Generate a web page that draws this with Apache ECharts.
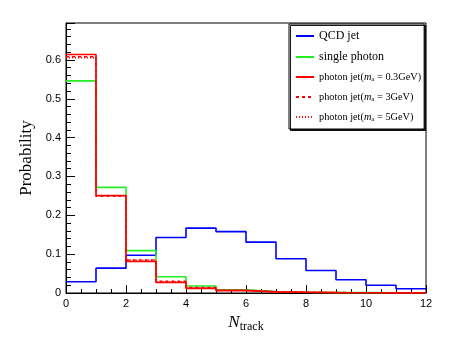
<!DOCTYPE html>
<html><head><meta charset="utf-8">
<script src="https://cdn.jsdelivr.net/npm/echarts@6/dist/echarts.min.js"></script>
<style>html,body{margin:0;padding:0;background:#fff}#c{width:458px;height:343px}</style>
</head><body><div id="c"></div>
<script>
const binEdges = [0,1,2,3,4,5,6,7,8,9,10,11,12];
const qcdJet = [0.029, 0.064, 0.097, 0.143, 0.167, 0.158, 0.131, 0.088, 0.058, 0.034, 0.020, 0.011];
const singlePhoton = [0.546, 0.272, 0.109, 0.042, 0.018, 0.008, 0.004, 0.002, 0.001, 0.001, 0.0005, 0.0003];
const photonJet03 = [0.614, 0.251, 0.081, 0.027, 0.012, 0.006, 0.003, 0.002, 0.001, 0.0005, 0.0003, 0.0002];
const photonJet3 = [0.608, 0.249, 0.085, 0.030, 0.014, 0.007, 0.003, 0.002, 0.001, 0.0005, 0.0003, 0.0002];
const photonJet5 = [0.606, 0.250, 0.084, 0.029, 0.013, 0.007, 0.003, 0.002, 0.001, 0.0005, 0.0003, 0.0002];
const xTicks = [0,2,4,6,8,10,12];
const yTicks = [0,0.1,0.2,0.3,0.4,0.5,0.6];

function hist(v){
  const d = [];
  for (let i=0;i<v.length;i++) d.push([binEdges[i], v[i]]);
  d.push([binEdges[v.length], v[v.length-1]]);
  return d;
}
const names = ['QCD jet','single photon','pj03','pj3','pj5'];
const labels = {
  'QCD jet':'{b|QCD jet}',
  'single photon':'{b|single photon}',
  'pj03':'{s|photon jet(}{i|m}{sub|a}{s| = 0.3GeV)}',
  'pj3':'{s|photon jet(}{i|m}{sub|a}{s| = 3GeV)}',
  'pj5':'{s|photon jet(}{i|m}{sub|a}{s| = 5GeV)}'
};
function ser(name, v, color, type){
  return {name, type:'line', step:'end', data:hist(v), symbol:'none', showSymbol:false,
    lineStyle:{color, width:1.6, type}, itemStyle:{color}, animation:false, z:3};
}
const chart = echarts.init(document.getElementById('c'), null, {renderer:'canvas'});
chart.setOption({
  animation:false,
  backgroundColor:'#fff',
  grid:{left:66, right:32, top:23, bottom:50, show:true, borderColor:'#000', borderWidth:1, backgroundColor:'transparent'},
  xAxis:{type:'value', min:0, max:12, interval:2,
    name:'{n|N}{t|track}', nameLocation:'middle', nameGap:20,
    nameTextStyle:{rich:{n:{fontFamily:'Liberation Serif', fontStyle:'italic', fontSize:17, color:'#000'},
                         t:{fontFamily:'Liberation Serif', fontSize:12, color:'#000', padding:[8,0,0,0]}}},
    axisLine:{lineStyle:{color:'#000', width:1}},
    axisTick:{inside:true, length:8, lineStyle:{color:'#000'}},
    minorTick:{show:true, splitNumber:4, length:4, lineStyle:{color:'#000'}},
    axisLabel:{color:'#000', fontFamily:'Liberation Sans', fontSize:11, margin:5,
      formatter:v=> xTicks.includes(v) ? String(v) : ''},
    splitLine:{show:false}},
  yAxis:{type:'value', min:0, max:0.695, interval:0.1,
    name:'Probability', nameLocation:'middle', nameGap:28,
    nameTextStyle:{fontFamily:'Liberation Serif', fontSize:17, color:'#000'},
    axisLine:{lineStyle:{color:'#000', width:1}},
    axisTick:{inside:true, length:9, lineStyle:{color:'#000'}},
    minorTick:{show:true, splitNumber:5, length:5, lineStyle:{color:'#000'}},
    axisLabel:{color:'#000', fontFamily:'Liberation Sans', fontSize:11, margin:5, showMaxLabel:false,
      formatter:v=>{ const r=Math.round(v*10)/10; return (Math.abs(v-r)<1e-6 && yTicks.includes(r)) ? String(r) : ''; }},
    splitLine:{show:false}},
  legend:{show:true, orient:'vertical', left:289, top:24,
    data:names.map(n=>({name:n, itemStyle:{opacity:0}})), padding:[6,3,6,6], itemGap:9, itemWidth:18, itemHeight:10,
    backgroundColor:'#fff', borderColor:'#000', borderWidth:1,
    shadowColor:'rgba(0,0,0,0.9)', shadowOffsetX:1.5, shadowOffsetY:1.5, shadowBlur:0,
    formatter:n=>labels[n],
    textStyle:{color:'#000', rich:{
      b:{fontFamily:'Liberation Serif', fontSize:12, color:'#000'},
      s:{fontFamily:'Liberation Serif', fontSize:10.3, color:'#000'},
      i:{fontFamily:'Liberation Serif', fontStyle:'italic', fontSize:10.3, color:'#000'},
      sub:{fontFamily:'Liberation Serif', fontSize:7, color:'#000', padding:[5,0,0,0]}
    }}},
  series:[
    ser('QCD jet', qcdJet, '#0000ff', 'solid'),
    ser('single photon', singlePhoton, '#22ee22', 'solid'),
    ser('pj5', photonJet5, '#ff0000', [1,2]),
    ser('pj3', photonJet3, '#ff0000', [3,3]),
    ser('pj03', photonJet03, '#ff0000', 'solid')
  ]
});
</script></body></html>
